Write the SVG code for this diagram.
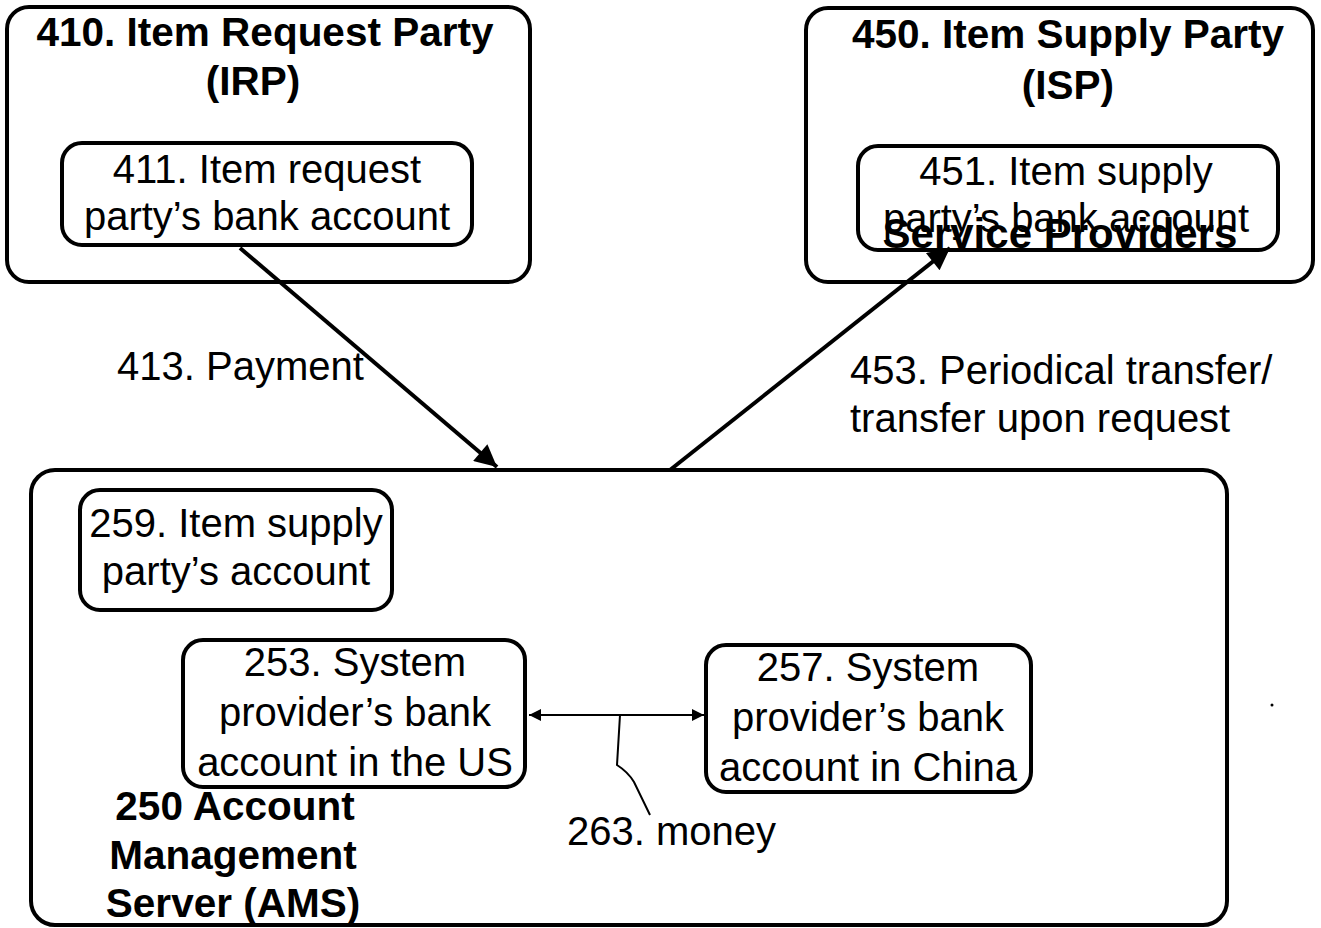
<svg xmlns="http://www.w3.org/2000/svg" width="1321" height="928" viewBox="0 0 1321 928">
<style>
.box{fill:none;stroke:#000;stroke-width:4}
.t{font-family:"Liberation Sans",Arial,sans-serif;font-size:40px;fill:#000}
.b{font-family:"Liberation Sans",Arial,sans-serif;font-size:40.5px;font-weight:bold;fill:#000}
.c{text-anchor:middle}
.ln{fill:none;stroke:#000;stroke-width:4}
.thin{fill:none;stroke:#000;stroke-width:2}
</style>
<defs>
<marker id="ah" viewBox="0 0 10 10" refX="10" refY="5" markerWidth="28" markerHeight="22" markerUnits="userSpaceOnUse" orient="auto"><path d="M0,0 L10,5 L0,10 z" fill="#000"/></marker>
<marker id="sh" viewBox="0 0 10 10" refX="10" refY="5" markerWidth="16" markerHeight="12" markerUnits="userSpaceOnUse" orient="auto-start-reverse"><path d="M0,0 L10,5 L0,10 z" fill="#000"/></marker>
</defs>
<rect width="1321" height="928" fill="#fff"/>
<g id="irp">
<rect class="box" x="7" y="7" width="523" height="275" rx="22"/>
<text class="b c" x="265" y="46">410. Item Request Party</text>
<text class="b c" x="253" y="95">(IRP)</text>
</g>
<g id="irp-account">
<rect class="box" x="62" y="143" width="410" height="102" rx="20"/>
<text class="t c" x="267" y="183">411. Item request</text>
<text class="t c" x="267" y="230">party’s bank account</text>
</g>
<g id="isp">
<rect class="box" x="806" y="8" width="507" height="274" rx="22"/>
<text class="b c" x="1068" y="48">450. Item Supply Party</text>
<text class="b c" x="1068" y="99">(ISP)</text>
</g>
<g id="isp-account">
<rect class="box" x="858" y="146" width="420" height="104" rx="20"/>
<text class="t c" x="1066" y="185">451. Item supply</text>
<text class="t c" x="1066" y="232">party’s bank account</text>
<text class="b c" x="1060" y="248" style="font-size:42px">Service Providers</text>
</g>
<g id="ams">
<rect class="box" x="31" y="470" width="1196" height="455" rx="24"/>
<text class="b c" x="235" y="820">250 Account</text>
<text class="b c" x="233" y="869">Management</text>
<text class="b c" x="233" y="917">Server (AMS)</text>
</g>
<g id="isp-ams-account">
<rect class="box" x="80" y="490" width="312" height="120" rx="20"/>
<text class="t c" x="236" y="537">259. Item supply</text>
<text class="t c" x="236" y="585">party’s account</text>
</g>
<g id="us-account">
<rect class="box" x="183" y="640" width="342" height="147" rx="20"/>
<text class="t c" x="355" y="676">253. System</text>
<text class="t c" x="355" y="726">provider’s bank</text>
<text class="t c" x="355" y="776">account in the US</text>
</g>
<g id="china-account">
<rect class="box" x="706" y="645" width="325" height="147" rx="20"/>
<text class="t c" x="868" y="681">257. System</text>
<text class="t c" x="868" y="731">provider’s bank</text>
<text class="t c" x="868" y="781">account in China</text>
</g>
<g id="connectors">
<line class="ln" x1="240" y1="248" x2="497" y2="467" marker-end="url(#ah)"/>
<line class="ln" x1="670" y1="470" x2="950" y2="248" marker-end="url(#ah)"/>
<line class="thin" x1="529" y1="715" x2="704" y2="715" marker-start="url(#sh)" marker-end="url(#sh)"/>
<path class="thin" d="M620,715 L617,765 Q628,772 634,782 L650,815"/>
</g>
<g id="labels">
<text class="t" x="117" y="380">413. Payment</text>
<text class="t" x="850" y="384">453. Periodical transfer/</text>
<text class="t" x="850" y="432">transfer upon request</text>
<text class="t" x="567" y="845">263. money</text>
</g>
<circle cx="1272" cy="705" r="1.5" fill="#000"/>
</svg>
